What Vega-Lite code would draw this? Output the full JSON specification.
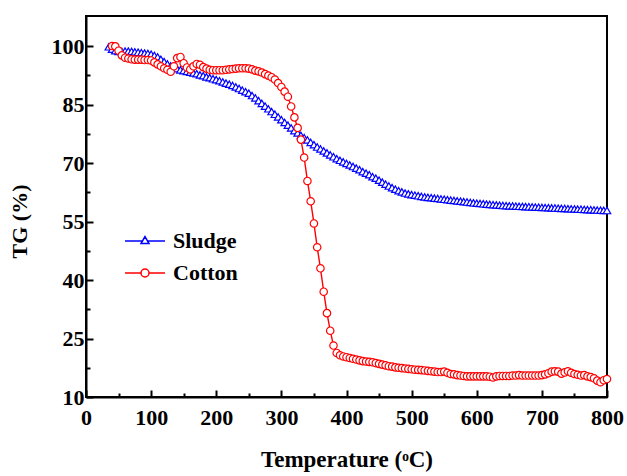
{
  "$schema": "https://vega.github.io/schema/vega-lite/v6.json",
  "width": 521,
  "height": 381,
  "autosize": {"type": "none"},
  "padding": {"left": 86, "top": 16, "right": 20, "bottom": 79},
  "config": {
    "view": {"stroke": "black", "strokeWidth": 2},
    "font": "Liberation Serif",
    "axis": {
      "grid": false,
      "domainColor": "black",
      "domainWidth": 2,
      "tickColor": "black",
      "tickWidth": 2,
      "labelFont": "Liberation Serif",
      "labelFontSize": 22,
      "labelFontWeight": "bold",
      "labelColor": "black",
      "titleFont": "Liberation Serif",
      "titleFontSize": 22,
      "titleFontWeight": "bold",
      "titleColor": "black"
    }
  },
  "data": {
    "values": [
      {"s":"Sludge","T":35,"TG":99.8},{"s":"Sludge","T":40,"TG":99.2},{"s":"Sludge","T":45,"TG":98.8},{"s":"Sludge","T":50,"TG":98.6},{"s":"Sludge","T":55,"TG":98.6},{"s":"Sludge","T":60,"TG":98.7},{"s":"Sludge","T":65,"TG":98.7},{"s":"Sludge","T":70,"TG":98.6},{"s":"Sludge","T":75,"TG":98.5},{"s":"Sludge","T":80,"TG":98.4},{"s":"Sludge","T":85,"TG":98.3},{"s":"Sludge","T":90,"TG":98.2},{"s":"Sludge","T":95,"TG":98.1},{"s":"Sludge","T":100,"TG":97.9},{"s":"Sludge","T":105,"TG":97.6},{"s":"Sludge","T":110,"TG":97.2},{"s":"Sludge","T":115,"TG":96.6},{"s":"Sludge","T":120,"TG":96.0},{"s":"Sludge","T":125,"TG":95.4},{"s":"Sludge","T":130,"TG":94.9},{"s":"Sludge","T":135,"TG":94.5},{"s":"Sludge","T":140,"TG":94.2},{"s":"Sludge","T":145,"TG":93.9},{"s":"Sludge","T":150,"TG":93.7},{"s":"Sludge","T":155,"TG":93.5},{"s":"Sludge","T":160,"TG":93.3},{"s":"Sludge","T":165,"TG":93.1},{"s":"Sludge","T":170,"TG":92.9},{"s":"Sludge","T":175,"TG":92.6},{"s":"Sludge","T":180,"TG":92.4},{"s":"Sludge","T":185,"TG":92.1},{"s":"Sludge","T":190,"TG":91.9},{"s":"Sludge","T":195,"TG":91.6},{"s":"Sludge","T":200,"TG":91.4},{"s":"Sludge","T":205,"TG":91.1},{"s":"Sludge","T":210,"TG":90.8},{"s":"Sludge","T":215,"TG":90.5},{"s":"Sludge","T":220,"TG":90.2},{"s":"Sludge","T":225,"TG":89.9},{"s":"Sludge","T":230,"TG":89.5},{"s":"Sludge","T":235,"TG":89.1},{"s":"Sludge","T":240,"TG":88.7},{"s":"Sludge","T":245,"TG":88.3},{"s":"Sludge","T":250,"TG":87.9},{"s":"Sludge","T":255,"TG":87.3},{"s":"Sludge","T":260,"TG":86.7},{"s":"Sludge","T":265,"TG":86.0},{"s":"Sludge","T":270,"TG":85.3},{"s":"Sludge","T":275,"TG":84.6},{"s":"Sludge","T":280,"TG":83.9},{"s":"Sludge","T":285,"TG":83.2},{"s":"Sludge","T":290,"TG":82.5},{"s":"Sludge","T":295,"TG":81.8},{"s":"Sludge","T":300,"TG":81.1},{"s":"Sludge","T":305,"TG":80.4},{"s":"Sludge","T":310,"TG":79.7},{"s":"Sludge","T":315,"TG":79.0},{"s":"Sludge","T":320,"TG":78.3},{"s":"Sludge","T":325,"TG":77.7},{"s":"Sludge","T":330,"TG":77.1},{"s":"Sludge","T":335,"TG":76.5},{"s":"Sludge","T":340,"TG":75.9},{"s":"Sludge","T":345,"TG":75.3},{"s":"Sludge","T":350,"TG":74.7},{"s":"Sludge","T":355,"TG":74.1},{"s":"Sludge","T":360,"TG":73.6},{"s":"Sludge","T":365,"TG":73.1},{"s":"Sludge","T":370,"TG":72.6},{"s":"Sludge","T":375,"TG":72.1},{"s":"Sludge","T":380,"TG":71.6},{"s":"Sludge","T":385,"TG":71.1},{"s":"Sludge","T":390,"TG":70.7},{"s":"Sludge","T":395,"TG":70.3},{"s":"Sludge","T":400,"TG":69.9},{"s":"Sludge","T":405,"TG":69.5},{"s":"Sludge","T":410,"TG":69.1},{"s":"Sludge","T":415,"TG":68.7},{"s":"Sludge","T":420,"TG":68.3},{"s":"Sludge","T":425,"TG":67.8},{"s":"Sludge","T":430,"TG":67.4},{"s":"Sludge","T":435,"TG":67.0},{"s":"Sludge","T":440,"TG":66.5},{"s":"Sludge","T":445,"TG":66.1},{"s":"Sludge","T":450,"TG":65.6},{"s":"Sludge","T":455,"TG":65.1},{"s":"Sludge","T":460,"TG":64.6},{"s":"Sludge","T":465,"TG":64.1},{"s":"Sludge","T":470,"TG":63.7},{"s":"Sludge","T":475,"TG":63.3},{"s":"Sludge","T":480,"TG":62.9},{"s":"Sludge","T":485,"TG":62.6},{"s":"Sludge","T":490,"TG":62.3},{"s":"Sludge","T":495,"TG":62.1},{"s":"Sludge","T":500,"TG":61.9},{"s":"Sludge","T":505,"TG":61.75},{"s":"Sludge","T":510,"TG":61.6},{"s":"Sludge","T":515,"TG":61.45},{"s":"Sludge","T":520,"TG":61.3},{"s":"Sludge","T":525,"TG":61.2},{"s":"Sludge","T":530,"TG":61.1},{"s":"Sludge","T":535,"TG":61.0},{"s":"Sludge","T":540,"TG":60.9},{"s":"Sludge","T":545,"TG":60.8},{"s":"Sludge","T":550,"TG":60.7},{"s":"Sludge","T":555,"TG":60.6},{"s":"Sludge","T":560,"TG":60.5},{"s":"Sludge","T":565,"TG":60.4},{"s":"Sludge","T":570,"TG":60.3},{"s":"Sludge","T":575,"TG":60.2},{"s":"Sludge","T":580,"TG":60.1},{"s":"Sludge","T":585,"TG":60.0},{"s":"Sludge","T":590,"TG":59.9},{"s":"Sludge","T":595,"TG":59.8},{"s":"Sludge","T":600,"TG":59.7},{"s":"Sludge","T":605,"TG":59.62},{"s":"Sludge","T":610,"TG":59.55},{"s":"Sludge","T":615,"TG":59.47},{"s":"Sludge","T":620,"TG":59.4},{"s":"Sludge","T":625,"TG":59.32},{"s":"Sludge","T":630,"TG":59.25},{"s":"Sludge","T":635,"TG":59.17},{"s":"Sludge","T":640,"TG":59.1},{"s":"Sludge","T":645,"TG":59.06},{"s":"Sludge","T":650,"TG":59.02},{"s":"Sludge","T":655,"TG":58.98},{"s":"Sludge","T":660,"TG":58.94},{"s":"Sludge","T":665,"TG":58.9},{"s":"Sludge","T":670,"TG":58.86},{"s":"Sludge","T":675,"TG":58.82},{"s":"Sludge","T":680,"TG":58.78},{"s":"Sludge","T":685,"TG":58.74},{"s":"Sludge","T":690,"TG":58.7},{"s":"Sludge","T":695,"TG":58.66},{"s":"Sludge","T":700,"TG":58.62},{"s":"Sludge","T":705,"TG":58.58},{"s":"Sludge","T":710,"TG":58.54},{"s":"Sludge","T":715,"TG":58.5},{"s":"Sludge","T":720,"TG":58.46},{"s":"Sludge","T":725,"TG":58.42},{"s":"Sludge","T":730,"TG":58.38},{"s":"Sludge","T":735,"TG":58.34},{"s":"Sludge","T":740,"TG":58.3},{"s":"Sludge","T":745,"TG":58.26},{"s":"Sludge","T":750,"TG":58.22},{"s":"Sludge","T":755,"TG":58.18},{"s":"Sludge","T":760,"TG":58.14},{"s":"Sludge","T":765,"TG":58.1},{"s":"Sludge","T":770,"TG":58.06},{"s":"Sludge","T":775,"TG":58.02},{"s":"Sludge","T":780,"TG":57.98},{"s":"Sludge","T":785,"TG":57.94},{"s":"Sludge","T":790,"TG":57.9},{"s":"Sludge","T":795,"TG":57.86},{"s":"Sludge","T":800,"TG":57.82},
      {"s":"Cotton","T":40,"TG":100.0},{"s":"Cotton","T":45,"TG":99.9},{"s":"Cotton","T":50,"TG":98.8},{"s":"Cotton","T":55,"TG":97.6},{"s":"Cotton","T":60,"TG":97.0},{"s":"Cotton","T":65,"TG":96.8},{"s":"Cotton","T":70,"TG":96.6},{"s":"Cotton","T":75,"TG":96.5},{"s":"Cotton","T":80,"TG":96.5},{"s":"Cotton","T":85,"TG":96.5},{"s":"Cotton","T":90,"TG":96.4},{"s":"Cotton","T":95,"TG":96.4},{"s":"Cotton","T":100,"TG":96.3},{"s":"Cotton","T":105,"TG":95.8},{"s":"Cotton","T":110,"TG":95.3},{"s":"Cotton","T":115,"TG":94.8},{"s":"Cotton","T":120,"TG":94.3},{"s":"Cotton","T":125,"TG":93.9},{"s":"Cotton","T":130,"TG":93.4},{"s":"Cotton","T":135,"TG":94.8},{"s":"Cotton","T":140,"TG":96.9},{"s":"Cotton","T":145,"TG":97.2},{"s":"Cotton","T":150,"TG":95.6},{"s":"Cotton","T":155,"TG":94.5},{"s":"Cotton","T":160,"TG":94.0},{"s":"Cotton","T":165,"TG":94.8},{"s":"Cotton","T":170,"TG":95.4},{"s":"Cotton","T":175,"TG":95.2},{"s":"Cotton","T":180,"TG":94.6},{"s":"Cotton","T":185,"TG":94.2},{"s":"Cotton","T":190,"TG":93.9},{"s":"Cotton","T":195,"TG":93.8},{"s":"Cotton","T":200,"TG":93.8},{"s":"Cotton","T":205,"TG":93.8},{"s":"Cotton","T":210,"TG":93.8},{"s":"Cotton","T":215,"TG":93.9},{"s":"Cotton","T":220,"TG":94.0},{"s":"Cotton","T":225,"TG":94.1},{"s":"Cotton","T":230,"TG":94.2},{"s":"Cotton","T":235,"TG":94.3},{"s":"Cotton","T":240,"TG":94.3},{"s":"Cotton","T":245,"TG":94.3},{"s":"Cotton","T":250,"TG":94.2},{"s":"Cotton","T":255,"TG":94.0},{"s":"Cotton","T":260,"TG":93.7},{"s":"Cotton","T":265,"TG":93.5},{"s":"Cotton","T":270,"TG":93.2},{"s":"Cotton","T":275,"TG":92.8},{"s":"Cotton","T":280,"TG":92.4},{"s":"Cotton","T":285,"TG":92.0},{"s":"Cotton","T":290,"TG":91.4},{"s":"Cotton","T":295,"TG":90.5},{"s":"Cotton","T":300,"TG":89.5},{"s":"Cotton","T":305,"TG":88.3},{"s":"Cotton","T":310,"TG":87.0},{"s":"Cotton","T":315,"TG":84.5},{"s":"Cotton","T":320,"TG":81.7},{"s":"Cotton","T":325,"TG":79.0},{"s":"Cotton","T":330,"TG":76.0},{"s":"Cotton","T":335,"TG":71.4},{"s":"Cotton","T":340,"TG":65.4},{"s":"Cotton","T":345,"TG":60.2},{"s":"Cotton","T":350,"TG":54.5},{"s":"Cotton","T":355,"TG":48.4},{"s":"Cotton","T":360,"TG":43.0},{"s":"Cotton","T":365,"TG":37.0},{"s":"Cotton","T":370,"TG":31.5},{"s":"Cotton","T":375,"TG":27.0},{"s":"Cotton","T":380,"TG":23.2},{"s":"Cotton","T":385,"TG":21.3},{"s":"Cotton","T":390,"TG":20.7},{"s":"Cotton","T":395,"TG":20.4},{"s":"Cotton","T":400,"TG":20.2},{"s":"Cotton","T":405,"TG":20.0},{"s":"Cotton","T":410,"TG":19.8},{"s":"Cotton","T":415,"TG":19.6},{"s":"Cotton","T":420,"TG":19.4},{"s":"Cotton","T":425,"TG":19.2},{"s":"Cotton","T":430,"TG":19.1},{"s":"Cotton","T":435,"TG":19.0},{"s":"Cotton","T":440,"TG":18.9},{"s":"Cotton","T":445,"TG":18.7},{"s":"Cotton","T":450,"TG":18.5},{"s":"Cotton","T":455,"TG":18.3},{"s":"Cotton","T":460,"TG":18.1},{"s":"Cotton","T":465,"TG":17.9},{"s":"Cotton","T":470,"TG":17.8},{"s":"Cotton","T":475,"TG":17.6},{"s":"Cotton","T":480,"TG":17.5},{"s":"Cotton","T":485,"TG":17.4},{"s":"Cotton","T":490,"TG":17.3},{"s":"Cotton","T":495,"TG":17.2},{"s":"Cotton","T":500,"TG":17.1},{"s":"Cotton","T":505,"TG":17.0},{"s":"Cotton","T":510,"TG":16.95},{"s":"Cotton","T":515,"TG":16.9},{"s":"Cotton","T":520,"TG":16.8},{"s":"Cotton","T":525,"TG":16.7},{"s":"Cotton","T":530,"TG":16.6},{"s":"Cotton","T":535,"TG":16.5},{"s":"Cotton","T":540,"TG":16.4},{"s":"Cotton","T":545,"TG":16.4},{"s":"Cotton","T":550,"TG":16.5},{"s":"Cotton","T":555,"TG":16.2},{"s":"Cotton","T":560,"TG":15.9},{"s":"Cotton","T":565,"TG":15.8},{"s":"Cotton","T":570,"TG":15.6},{"s":"Cotton","T":575,"TG":15.5},{"s":"Cotton","T":580,"TG":15.4},{"s":"Cotton","T":585,"TG":15.3},{"s":"Cotton","T":590,"TG":15.3},{"s":"Cotton","T":595,"TG":15.3},{"s":"Cotton","T":600,"TG":15.3},{"s":"Cotton","T":605,"TG":15.3},{"s":"Cotton","T":610,"TG":15.3},{"s":"Cotton","T":615,"TG":15.3},{"s":"Cotton","T":620,"TG":15.2},{"s":"Cotton","T":625,"TG":15.0},{"s":"Cotton","T":630,"TG":15.3},{"s":"Cotton","T":635,"TG":15.4},{"s":"Cotton","T":640,"TG":15.4},{"s":"Cotton","T":645,"TG":15.4},{"s":"Cotton","T":650,"TG":15.4},{"s":"Cotton","T":655,"TG":15.5},{"s":"Cotton","T":660,"TG":15.5},{"s":"Cotton","T":665,"TG":15.6},{"s":"Cotton","T":670,"TG":15.5},{"s":"Cotton","T":675,"TG":15.5},{"s":"Cotton","T":680,"TG":15.5},{"s":"Cotton","T":685,"TG":15.5},{"s":"Cotton","T":690,"TG":15.5},{"s":"Cotton","T":695,"TG":15.5},{"s":"Cotton","T":700,"TG":15.6},{"s":"Cotton","T":705,"TG":15.8},{"s":"Cotton","T":710,"TG":16.1},{"s":"Cotton","T":715,"TG":16.5},{"s":"Cotton","T":720,"TG":16.6},{"s":"Cotton","T":725,"TG":16.5},{"s":"Cotton","T":730,"TG":16.0},{"s":"Cotton","T":735,"TG":16.3},{"s":"Cotton","T":740,"TG":16.6},{"s":"Cotton","T":745,"TG":16.2},{"s":"Cotton","T":750,"TG":15.9},{"s":"Cotton","T":755,"TG":15.7},{"s":"Cotton","T":760,"TG":15.5},{"s":"Cotton","T":765,"TG":15.6},{"s":"Cotton","T":770,"TG":15.3},{"s":"Cotton","T":775,"TG":15.1},{"s":"Cotton","T":780,"TG":14.8},{"s":"Cotton","T":785,"TG":14.2},{"s":"Cotton","T":790,"TG":13.8},{"s":"Cotton","T":795,"TG":14.3},{"s":"Cotton","T":800,"TG":14.6}
    ]
  },
  "encoding": {
    "x": {
      "field": "T", "type": "quantitative",
      "scale": {"domain": [0, 800], "nice": false, "zero": false},
      "axis": {
        "title": "Temperature (ᵒC)",
        "titleFontSize": 23,
        "values": [0,50,100,150,200,250,300,350,400,450,500,550,600,650,700,750,800],
        "labelExpr": "datum.value % 100 == 0 ? datum.label : ''",
        "tickSize": {"condition": {"test": "datum.value % 100 == 0", "value": -7}, "value": -4},
        "labelPadding": 17,
        "titlePadding": 20,
        "labelFlush": false
      }
    },
    "y": {
      "field": "TG", "type": "quantitative",
      "scale": {"domain": [10, 107.7], "nice": false, "zero": false},
      "axis": {
        "title": "TG (%)",
        "values": [10,17.5,25,32.5,40,47.5,55,62.5,70,77.5,85,92.5,100],
        "labelExpr": "datum.value % 15 == 10 ? datum.label : ''",
        "tickSize": {"condition": {"test": "datum.value % 15 == 10", "value": -7}, "value": -4},
        "labelPadding": 9,
        "titlePadding": 20,
        "titleY": 205,
        "labelFlush": false
      }
    },
    "color": {
      "field": "s", "type": "nominal",
      "scale": {"domain": ["Sludge", "Cotton"], "range": ["#0000FF", "#FF0000"]},
      "legend": {
        "title": null,
        "orient": "none",
        "legendX": 38,
        "legendY": 204,
        "padding": 0,
        "symbolSize": 1600,
        "symbolStrokeWidth": 1.5,
        "symbolFillColor": "white",
        "labelFont": "Liberation Serif",
        "labelFontSize": 22,
        "labelFontWeight": "bold",
        "labelColor": "black",
        "labelOffset": 7,
        "rowPadding": -8,
        "encode": {
          "symbols": {
            "update": {
              "shape": {"signal": "datum.value == 'Sludge' ? 'M-1,0H-0.126M0.126,0H1M0,-0.22L0.2,0.13L-0.2,0.13Z' : 'M-1,0H-0.2M0.2,0H1M0.2,0A0.2,0.2 0 1,1 -0.2,0A0.2,0.2 0 1,1 0.2,0Z'"},
              "fill": {"value": "white"}
            }
          }
        }
      }
    }
  },
  "layer": [
    {"mark": {"type": "line", "strokeWidth": 1.4}, "encoding": {"detail": {"field": "s"}}},
    {
      "transform": [{"filter": "datum.s == 'Sludge'"}],
      "mark": {"type": "point", "shape": "triangle-up", "filled": false, "fill": "white", "strokeWidth": 1.2, "opacity": 1, "size": 55}
    },
    {
      "transform": [{"filter": "datum.s == 'Cotton'"}],
      "mark": {"type": "point", "shape": "circle", "filled": false, "fill": "white", "strokeWidth": 1.2, "opacity": 1, "size": 55}
    }
  ]
}
